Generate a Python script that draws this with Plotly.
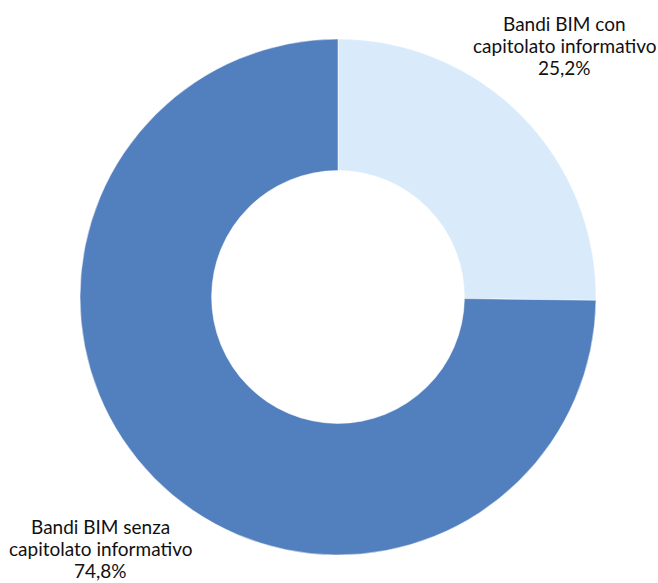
import plotly.graph_objects as go

# Share of BIM tenders with / without an information specification
labels = ["Bandi BIM con<br>capitolato informativo", "Bandi BIM senza<br>capitolato informativo"]
values = [25.2, 74.8]
colors = ["#D9EAFB", "#527FBD"]

W, H = 658, 583

fig = go.Figure(
    go.Pie(
        labels=labels,
        values=values,
        hole=0.49,
        sort=False,
        direction="clockwise",
        rotation=0,
        textinfo="none",
        hoverinfo="label+percent",
        marker=dict(colors=colors, line=dict(color="white", width=0.5)),
        domain=dict(x=[80 / W, 596 / W], y=[1 - 555 / H, 1 - 39 / H]),
        showlegend=False,
    )
)


def fmt(v):
    return f"{v:.1f}".replace(".", ",") + "%"


# label block: horizontal centre and vertical centre of its first line (pixels)
label_pos = [(564, 23), (100, 526)]
line_step = 22
for lab, val, (px, py) in zip(labels, values, label_pos):
    lines = lab.split("<br>") + [fmt(val)]
    for i, line in enumerate(lines):
        fig.add_annotation(
            x=px / W,
            y=1 - (py + i * line_step) / H,
            xref="paper",
            yref="paper",
            text=line,
            showarrow=False,
            align="center",
            xanchor="center",
            yanchor="middle",
            font=dict(family="Lato, 'Noto Sans', sans-serif", size=19, color="#111111"),
        )

fig.update_layout(
    width=W,
    height=H,
    margin=dict(l=0, r=0, t=0, b=0),
    paper_bgcolor="white",
    plot_bgcolor="white",
)

fig.write_html("out.html")
